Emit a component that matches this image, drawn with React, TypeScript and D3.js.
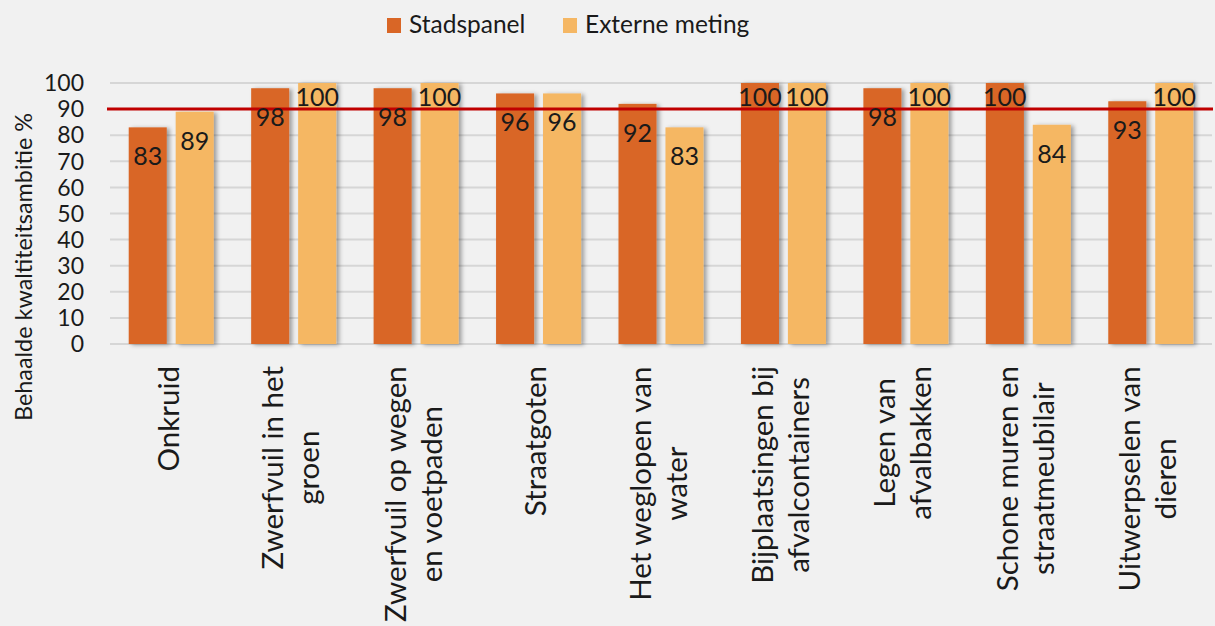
import React from 'react';
import * as d3 from 'd3';

const categories: string[] = [
  'Onkruid',
  'Zwerfvuil in het\ngroen',
  'Zwerfvuil op wegen\nen voetpaden',
  'Straatgoten',
  'Het weglopen van\nwater',
  'Bijplaatsingen bij\nafvalcontainers',
  'Legen van\nafvalbakken',
  'Schone muren en\nstraatmeubilair',
  'Uitwerpselen van\ndieren',
];
const stadspanel: number[] = [83, 98, 98, 96, 92, 100, 98, 100, 93];
const externeMeting: number[] = [89, 100, 100, 96, 83, 100, 100, 84, 100];
const seriesNames: string[] = ['Stadspanel', 'Externe meting'];
const yTicks: number[] = [0, 10, 20, 30, 40, 50, 60, 70, 80, 90, 100];
const ambitie = 90;
const yTitle = 'Behaalde kwaltiteitsambitie %';

const W = 1215;
const H = 626;
const FONT = 'Lato, "Open Sans", sans-serif';
const COLORS = ['#D96626', '#F5B764'];

let ctx: CanvasRenderingContext2D | null = null;
function measure(text: string, size: number): number {
  if (!ctx) {
    const c = document.createElement('canvas');
    ctx = c.getContext('2d');
  }
  if (!ctx) return text.length * size * 0.5;
  ctx.font = `${size}px Lato`;
  return ctx.measureText(text).width;
}

export default function App() {
  const left = 110;
  const right = 1212;
  const top = 83;
  const bottom = 344;

  const x = d3.scaleBand<string>().domain(categories).range([left, right]).padding(0);
  const step = x.bandwidth();
  const inner = d3
    .scaleBand<string>()
    .domain(seriesNames)
    .range([step / 2 - 42.5, step / 2 + 42.5])
    .paddingInner(0.19)
    .paddingOuter(0);
  const y = d3.scaleLinear().domain([0, 100]).range([bottom, top]);

  const series = [stadspanel, externeMeting];
  const catSize = 29.5;
  const lineH = 36;
  const labelTop = 366;

  return (
    <svg
      width={W}
      height={H}
      style={{ position: 'absolute', left: 0, top: 0, background: '#F1F1F1' }}
      fontFamily={FONT}
    >
      <defs>
        <filter id="sh" x="-20%" y="-10%" width="160%" height="130%">
          <feDropShadow dx="3" dy="1" stdDeviation="2" floodColor="#000" floodOpacity="0.35" />
        </filter>
      </defs>
      <rect x={0} y={0} width={W} height={H} fill="#F1F1F1" />

      {/* legend */}
      {seriesNames.map((s, i) => {
        const lx = i === 0 ? 387 : 563;
        return (
          <g key={s}>
            <rect x={lx} y={18} width={14} height={15} fill={COLORS[i]} />
            <text x={lx + 22} y={33} fontSize={24.5} fill="#1a1a1a">
              {s}
            </text>
          </g>
        );
      })}

      {/* gridlines */}
      {yTicks.map((t) => (
        <line
          key={t}
          x1={left}
          x2={right}
          y1={y(t)}
          y2={y(t)}
          stroke="#D6D6D6"
          strokeWidth={2}
        />
      ))}

      {/* y tick labels */}
      {yTicks.map((t) => (
        <text
          key={'t' + t}
          x={84}
          y={y(t)}
          dy="0.36em"
          textAnchor="end"
          fontSize={23}
          fill="#1a1a1a"
        >
          {t}
        </text>
      ))}

      {/* y title */}
      <text
        transform={`translate(23,${267}) rotate(-90)`}
        textAnchor="middle"
        dominantBaseline="central"
        fontSize={23.4}
        fill="#1a1a1a"
      >
        {yTitle}
      </text>

      {/* bars */}
      {categories.map((c, ci) => (
        <g key={c} transform={`translate(${x(c)},0)`}>
          {series.map((vals, si) => (
            <rect
              key={si}
              x={inner(seriesNames[si])}
              y={y(vals[ci])}
              width={inner.bandwidth()}
              height={y(0) - y(vals[ci])}
              fill={COLORS[si]}
              filter="url(#sh)"
            />
          ))}
        </g>
      ))}

      {/* ambition line */}
      <line x1={107} x2={1213} y1={y(ambitie)} y2={y(ambitie)} stroke="#C00000" strokeWidth={3} />

      {/* data labels */}
      {categories.map((c, ci) => (
        <g key={'l' + c} transform={`translate(${x(c)},0)`}>
          {series.map((vals, si) => {
            const v = vals[ci];
            const cy = y(v) + (v >= 100 ? 14 : 29);
            return (
              <text
                key={si}
                x={(inner(seriesNames[si]) as number) + inner.bandwidth() / 2}
                y={cy}
                dy="0.36em"
                textAnchor="middle"
                fontSize={25}
                fill="#1a1a1a"
              >
                {v}
              </text>
            );
          })}
        </g>
      ))}

      {/* category labels */}
      {categories.map((c) => {
        const lines = c.split('\n');
        const maxLen = Math.max(...lines.map((l) => measure(l, catSize)));
        const cx = (x(c) as number) + step / 2 - 4;
        const n = lines.length;
        return (
          <g key={'c' + c}>
            {lines.map((l, li) => {
              const lx = cx + (li - (n - 1) / 2) * lineH;
              const ly = labelTop + maxLen / 2;
              return (
                <text
                  key={li}
                  transform={`translate(${lx},${ly}) rotate(-90)`}
                  textAnchor="middle"
                  dominantBaseline="central"
                  fontSize={catSize}
                  fill="#1a1a1a"
                >
                  {l}
                </text>
              );
            })}
          </g>
        );
      })}
    </svg>
  );
}
